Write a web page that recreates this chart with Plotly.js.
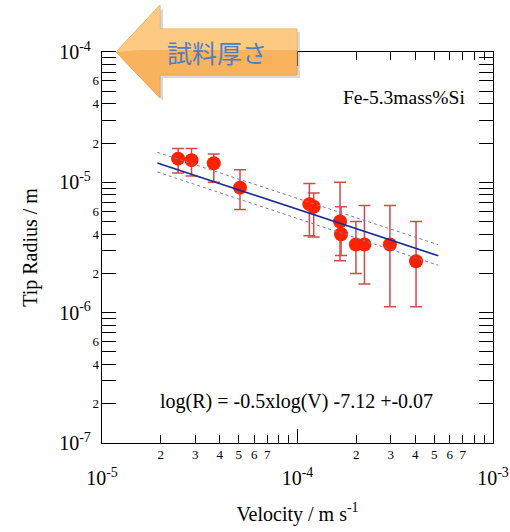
<!DOCTYPE html>
<html>
<head>
<meta charset="utf-8">
<script src="https://cdn.plot.ly/plotly-3.0.1.min.js"></script>
<style>html,body{margin:0;padding:0;background:#fff;}#chart{width:510px;height:532px;}</style>
</head>
<body>
<div id="chart"></div>
<script>
// Data
const velocity = [2.45e-5, 2.87e-5, 3.73e-5, 5.08e-5, 1.15e-4, 1.21e-4, 1.65e-4, 1.67e-4, 1.99e-4, 2.2e-4, 2.97e-4, 4.04e-4];
const radius   = [1.52e-5, 1.48e-5, 1.40e-5, 9.1e-6, 6.8e-6, 6.5e-6, 5.0e-6, 4.0e-6, 3.33e-6, 3.33e-6, 3.33e-6, 2.48e-6];
const radiusHi = [1.82e-5, 1.82e-5, 1.65e-5, 1.25e-5, 9.8e-6, 8.3e-6, 1.0e-5, 6.5e-6, 5.0e-6, 6.65e-6, 6.65e-6, 5.0e-6];
const radiusLo = [1.18e-5, 1.12e-5, 1.0e-5, 6.2e-6, 3.9e-6, 3.8e-6, 2.5e-6, 2.74e-6, 2.0e-6, 1.66e-6, 1.11e-6, 1.11e-6];

const fitV     = [1.92e-5, 5.25e-4];
const fitR     = [1.406e-5, 2.73e-6];
const fitUpper = [1.70e-5, 3.32e-6];
const fitLower = [1.20e-5, 2.31e-6];

const xMajorVals = [1e-5, 1e-4, 1e-3];
const xMajorText = ["10<sup>-5</sup>", "10<sup>-4</sup>", "10<sup>-3</sup>"];
const xMinorLabelVals = [2e-5, 3e-5, 4e-5, 5e-5, 6e-5, 7e-5, 2e-4, 3e-4, 4e-4, 5e-4, 6e-4, 7e-4];
const xMinorLabelText = ["2", "3", "4", "5", "6", "7", "2", "3", "4", "5", "6", "7"];

const yMajorVals = [1e-7, 1e-6, 1e-5, 1e-4];
const yMajorText = ["10<sup>-7</sup>", "10<sup>-6</sup>", "10<sup>-5</sup>", "10<sup>-4</sup>"];
const yMinorLabelVals = [2e-7, 4e-7, 6e-7, 2e-6, 4e-6, 6e-6, 2e-5, 4e-5, 6e-5];
const yMinorLabelText = ["2", "4", "6", "2", "4", "6", "2", "4", "6"];

const minorDigits = [2, 3, 4, 5, 6, 7, 8, 9];
function minorTicks(decades) {
  const out = [];
  decades.forEach(d => minorDigits.forEach(m => out.push(m * d)));
  return out;
}
const xMinorTicks = minorTicks([1e-5, 1e-4]);
const yMinorTicks = minorTicks([1e-7, 1e-6, 1e-5]);

const errPlus = radiusHi.map((h, i) => h - radius[i]);
const errMinus = radius.map((r, i) => r - radiusLo[i]);

const serif = "Liberation Serif, Times New Roman, serif";

const traces = [
  {x: fitV, y: fitUpper, mode: "lines", xaxis: "x2", yaxis: "y",
   line: {color: "#7a7ab8", width: 1, dash: "dot"}, hoverinfo: "skip"},
  {x: fitV, y: fitLower, mode: "lines", xaxis: "x2", yaxis: "y",
   line: {color: "#7a7ab8", width: 1, dash: "dot"}, hoverinfo: "skip"},
  {x: fitV, y: fitR, mode: "lines", xaxis: "x2", yaxis: "y2",
   line: {color: "#1c2a9a", width: 1.6}, hoverinfo: "skip"},
  {x: velocity, y: radius, mode: "markers", xaxis: "x", yaxis: "y",
   marker: {color: "#ff2200", size: 14, line: {width: 0}},
   error_y: {type: "data", symmetric: false, array: errPlus, arrayminus: errMinus,
             color: "#d24a4a", thickness: 1.5, width: 6}}
];

// Arrow polygon (paper coords) from pixel geometry
const L = 102, T = 52, W = 391, H = 391;
function px(x) { return (x - L) / W; }
function py(y) { return (T + H - y) / H; }
function arrowPath(dx, dy, pts) {
  return "M" + pts.map(p => px(p[0] + dx) + "," + py(p[1] + dy)).join(" L") + " Z";
}
const arrowPts = [[116,52],[160,5],[160,29],[297,29],[297,75],[160,75],[160,98]];
const arrowTopPts = [[116,52],[160,5],[160,29],[297,29],[297,50],[141,50]];

const axisCommon = {
  type: "log", showgrid: false, zeroline: false,
  linecolor: "#000", linewidth: 1.2, color: "#000"
};

const layout = {
  width: 510, height: 532,
  margin: {l: 102, r: 17, t: 52, b: 89},
  paper_bgcolor: "#fff", plot_bgcolor: "#fff",
  showlegend: false,
  font: {family: serif, color: "#000"},
  xaxis: Object.assign({}, axisCommon, {
    range: [-5, -3], showline: true, mirror: "allticks",
    ticks: "inside", ticklen: 14, tickwidth: 1, tickcolor: "#000",
    tickmode: "array", tickvals: xMajorVals, ticktext: xMajorText,
    tickfont: {family: serif, size: 20}, ticklabelstandoff: 17,
    minor: {tickmode: "array", tickvals: xMinorTicks, ticks: "inside", ticklen: 8, tickwidth: 1, tickcolor: "#000"},
    title: {text: "Velocity / m s<sup>-1</sup>", font: {family: serif, size: 20}, standoff: 18}
  }),
  xaxis2: Object.assign({}, axisCommon, {
    range: [-5, -3], overlaying: "x", side: "bottom", anchor: "y",
    showline: false, ticks: "",
    tickmode: "array", tickvals: xMinorLabelVals, ticktext: xMinorLabelText,
    tickfont: {family: serif, size: 13}, ticklabelstandoff: 2
  }),
  yaxis: Object.assign({}, axisCommon, {
    range: [-7, -4], showline: true, mirror: "allticks",
    ticks: "inside", ticklen: 14, tickwidth: 1, tickcolor: "#000",
    tickmode: "array", tickvals: yMajorVals, ticktext: yMajorText,
    tickfont: {family: serif, size: 20}, ticklabelstandoff: 6,
    minor: {tickmode: "array", tickvals: yMinorTicks, ticks: "inside", ticklen: 8, tickwidth: 1, tickcolor: "#000"},
    title: {text: "Tip Radius / m", font: {family: serif, size: 20}, standoff: 16}
  }),
  yaxis2: Object.assign({}, axisCommon, {
    range: [-7, -4], overlaying: "y", side: "left", anchor: "x",
    showline: false, ticks: "",
    tickmode: "array", tickvals: yMinorLabelVals, ticktext: yMinorLabelText,
    tickfont: {family: serif, size: 13}, ticklabelstandoff: 2
  }),
  shapes: [
    {type: "path", xref: "paper", yref: "paper", layer: "above", path: arrowPath(3, 3, arrowPts),
     fillcolor: "rgba(0,0,0,0.15)", line: {width: 0}},
    {type: "path", xref: "paper", yref: "paper", layer: "above", path: arrowPath(0, 0, arrowPts),
     fillcolor: "#f9b35e", line: {color: "#eea24a", width: 1}},
    {type: "path", xref: "paper", yref: "paper", layer: "above", path: arrowPath(0, 0, arrowTopPts),
     fillcolor: "rgba(255,220,160,0.55)", line: {width: 0}}
  ],
  annotations: [
    {text: "試料厚さ", xref: "paper", yref: "paper", x: px(217), y: py(52),
     xanchor: "center", yanchor: "middle",
     showarrow: false, font: {family: "Noto Sans CJK JP", size: 25, color: "#4f7fc0"}},
    {text: "Fe-5.3mass%Si", xref: "paper", yref: "paper", x: px(404), y: py(97),
     xanchor: "center", yanchor: "middle",
     showarrow: false, font: {family: serif, size: 19.5, color: "#000"}},
    {text: "log(R) = -0.5xlog(V) -7.12 +-0.07", xref: "paper", yref: "paper", x: px(296), y: py(401),
     xanchor: "center", yanchor: "middle",
     showarrow: false, font: {family: serif, size: 20, color: "#000"}}
  ]
};

Plotly.newPlot("chart", traces, layout, {staticPlot: true, displayModeBar: false});
</script>
</body>
</html>
